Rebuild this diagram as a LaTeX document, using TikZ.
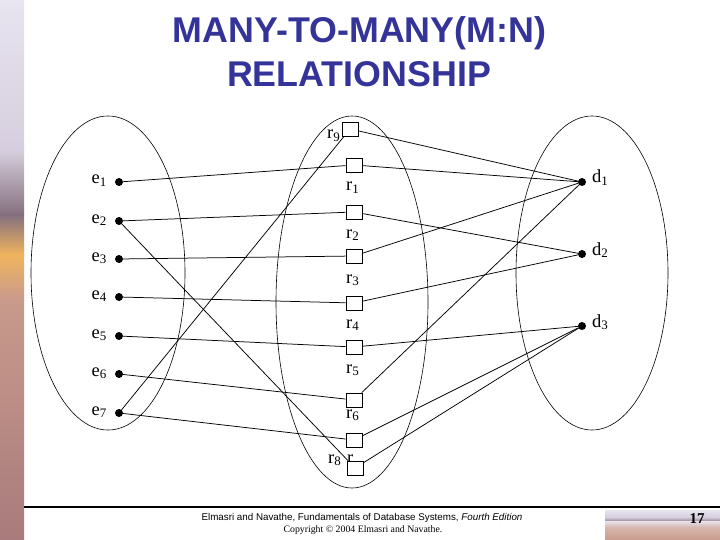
\documentclass[tikz,border=0pt]{standalone}
\usepackage{fontspec}
\setmainfont{Liberation Serif}
\newfontfamily\headfont{Liberation Sans}
\definecolor{headblue}{HTML}{333399}
\definecolor{lavtop}{HTML}{E8E4F0}
\definecolor{lavmid}{HTML}{D6CEDE}
\definecolor{cloud}{HTML}{85707E}
\definecolor{glow}{HTML}{F0B45E}
\definecolor{sand}{HTML}{C89A8C}
\definecolor{sanddark}{HTML}{A97B7C}
\begin{document}
\begin{tikzpicture}[
            x=1pt, y=-1pt,
            ent/.style={
                circle,fill=black,minimum size=8pt,
                inner sep=0pt, outer sep=0pt,
            },
            rel/.style={
                draw,fill=white,line width=0.7pt,
                minimum width=16pt,minimum height=14pt,inner sep=0pt,
            },
            lbl/.style={inner sep=0pt,font=\fontsize{18.5}{21}\selectfont},
            link/.style={line width=0.75pt},
            set/.style={line width=0.6pt},
        ]
        \useasboundingbox (0, 0) rectangle (720, 540);

        % background picture strips
        \fill[top color=lavtop, bottom color=lavmid] (0, 0) rectangle (24, 150);
        \fill[top color=lavmid, bottom color=cloud] (0, 150) rectangle (24, 215);
        \fill[top color=cloud, bottom color=glow] (0, 215) rectangle (24, 255);
        \fill[top color=glow, bottom color=sand] (0, 255) rectangle (24, 300);
        \fill[top color=sand, bottom color=sanddark] (0, 300) rectangle (24, 540);

        \fill[top color=lavtop, bottom color=lavmid] (605, 510) rectangle (720, 517);
        \fill[top color=lavmid, bottom color=cloud!80] (605, 517) rectangle (720, 521);
        \fill[top color=lavtop, bottom color=sand!70] (605, 521) rectangle (720, 527);
        \fill[top color=sand!70, bottom color=sand] (605, 527) rectangle (720, 540);

        % title
        \node[anchor=base, text=headblue, font=\headfont\bfseries\fontsize{35.8}{40}\selectfont] (t1) at (359.5, 43) {MANY-TO-MANY(M:N)};
        \node[anchor=base, text=headblue, font=\headfont\bfseries\fontsize{35.8}{40}\selectfont] (t2) at (359, 87) {RELATIONSHIP};

        % sets
        \draw[set] (108, 273) ellipse [x radius=77, y radius=157];
        \draw[set] (352, 302) ellipse [x radius=76, y radius=186];
        \draw[set] (592, 273) ellipse [x radius=76, y radius=157];

        % entities of the first set
        \draw node[ent] (e1) at (119, 182) {};
        \draw node[ent] (e2) at (119, 221) {};
        \draw node[ent] (e3) at (119, 259) {};
        \draw node[ent] (e4) at (119, 297) {};
        \draw node[ent] (e5) at (119, 336) {};
        \draw node[ent] (e6) at (119, 374) {};
        \draw node[ent] (e7) at (119, 413) {};

        \draw node[lbl, anchor=base east] (le1) at (107, 184) {e\textsubscript{1}};
        \draw node[lbl, anchor=base east] (le2) at (107, 223) {e\textsubscript{2}};
        \draw node[lbl, anchor=base east] (le3) at (107, 261) {e\textsubscript{3}};
        \draw node[lbl, anchor=base east] (le4) at (107, 299) {e\textsubscript{4}};
        \draw node[lbl, anchor=base east] (le5) at (107, 338) {e\textsubscript{5}};
        \draw node[lbl, anchor=base east] (le6) at (107, 376) {e\textsubscript{6}};
        \draw node[lbl, anchor=base east] (le7) at (107, 415) {e\textsubscript{7}};

        % entities of the second set
        \draw node[ent] (d1) at (582, 182) {};
        \draw node[ent] (d2) at (582, 254) {};
        \draw node[ent] (d3) at (582, 326) {};

        \draw node[lbl, anchor=base west] (ld1) at (592, 183) {d\textsubscript{1}};
        \draw node[lbl, anchor=base west] (ld2) at (592, 255) {d\textsubscript{2}};
        \draw node[lbl, anchor=base west] (ld3) at (592, 327) {d\textsubscript{3}};

        % relationship instances
        \draw node[lbl, anchor=base west] (lr7) at (347, 463) {r};

        \draw node[rel] (r9) at (350, 129) {};
        \draw node[rel] (r1) at (354, 165) {};
        \draw node[rel] (r2) at (354, 212) {};
        \draw node[rel] (r3) at (354, 256) {};
        \draw node[rel] (r4) at (354, 303) {};
        \draw node[rel] (r5) at (354, 347) {};
        \draw node[rel] (r6) at (354, 400) {};
        \draw node[rel] (r7) at (354, 440) {};
        \draw node[rel] (r8) at (355, 468) {};

        \draw node[lbl, anchor=base west] (lr9) at (327, 139) {r\textsubscript{9}};
        \draw node[lbl, anchor=base west] (lr1) at (346, 191) {r\textsubscript{1}};
        \draw node[lbl, anchor=base west] (lr2) at (346, 238) {r\textsubscript{2}};
        \draw node[lbl, anchor=base west] (lr3) at (346, 283) {r\textsubscript{3}};
        \draw node[lbl, anchor=base west] (lr4) at (346, 328) {r\textsubscript{4}};
        \draw node[lbl, anchor=base west] (lr5) at (346, 373) {r\textsubscript{5}};
        \draw node[lbl, anchor=base west] (lr6) at (346, 418) {r\textsubscript{6}};
        \draw node[lbl, anchor=base west] (lr8) at (328, 463) {r\textsubscript{8}};

        % participation
        \draw[link] (e1) -- (r1);
        \draw[link] (e2) -- (r2);
        \draw[link] (e2) -- (r8);
        \draw[link] (e3) -- (r3);
        \draw[link] (e4) -- (r4);
        \draw[link] (e5) -- (r5);
        \draw[link] (e6) -- (r6);
        \draw[link] (e7) -- (r7);
        \draw[link] (e7) -- (r9);

        \draw[link] (r9) -- (d1);
        \draw[link] (r1) -- (d1);
        \draw[link] (r2) -- (d2);
        \draw[link] (r3) -- (d1);
        \draw[link] (r4) -- (d2);
        \draw[link] (r5) -- (d3);
        \draw[link] (r6) -- (d1);
        \draw[link] (r7) -- (d3);
        \draw[link] (r8) -- (d3);

        % footer
        \draw[line width=1.2pt] (24, 507) -- (720, 507);
        \draw node[anchor=base, font=\headfont\fontsize{9.8}{11}\selectfont] (f1) at (362, 520) {Elmasri and Navathe, Fundamentals of Database Systems, \textit{Fourth Edition}};
        \draw node[anchor=base, font=\fontsize{9.8}{11}\selectfont] (f2) at (363, 532) {Copyright © 2004 Elmasri and Navathe.};
        \draw node[anchor=base, font=\bfseries\fontsize{15}{17}\selectfont] (pg) at (697, 523) {17};
    \end{tikzpicture}
\end{document}
